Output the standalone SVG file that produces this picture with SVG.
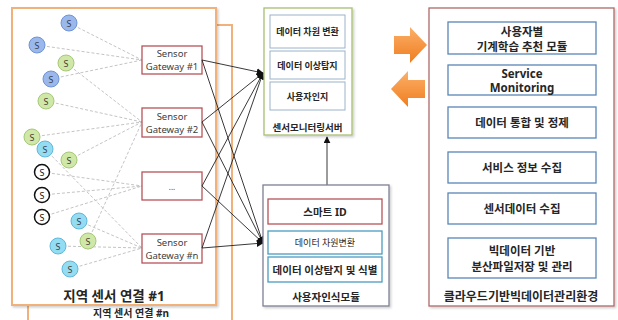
<svg xmlns="http://www.w3.org/2000/svg" width="618" height="320" viewBox="0 0 618 320">
<defs>
<style>
text{font-family:"Noto Sans","Noto Sans CJK KR",sans-serif;fill:#262626;text-anchor:middle;dominant-baseline:central}
.region{fill:#fff;stroke:#f0b27a;stroke-width:2}
.gw{fill:#fff;stroke:#b5545a;stroke-width:1.3}
.gwt{font-size:9.5px;fill:#404040}
.srv{fill:#fff;stroke:#a8c070;stroke-width:1.3}
.sin{fill:#fff;stroke:#9ab2c8;stroke-width:1}
.usr{fill:#fff;stroke:#7f8096;stroke-width:1.3}
.red{fill:#fff;stroke:#b5545a;stroke-width:1.3}
.blu{fill:#fff;stroke:#4a9cc0;stroke-width:1.3}
.cld{fill:#fff;stroke:#b06a6a;stroke-width:1.3}
.cin{fill:#fff;stroke:#5a86b8;stroke-width:1.3}
.b9{font-size:9px;font-weight:bold}
.b11{font-size:11.5px;font-weight:bold}
.s{font-size:9px;fill:#404040}
.sb{fill:#9ab8ec;stroke:#6f93d4}
.sg{fill:#cfe8a8;stroke:#a7c878}
.sc{fill:#93dcf2;stroke:#5fb8dc}
.sk{fill:#fff;stroke:#111;stroke-width:1.5}
.dash{stroke:#c4c4c4;stroke-width:1;stroke-dasharray:3 2;fill:none}
.conn{stroke:#222;stroke-width:0.9;fill:none}
</style>
<marker id="ah" viewBox="0 0 10 10" refX="9" refY="5" markerWidth="7" markerHeight="7" markerUnits="userSpaceOnUse" orient="auto">
<path d="M0,0 L10,5 L0,10 z" fill="#111"/>
</marker>
<linearGradient id="og" x1="0" y1="0" x2="0" y2="1">
<stop offset="0" stop-color="#fbb06a"/>
<stop offset="1" stop-color="#f07d1e"/>
</linearGradient>
<filter id="sh" x="-5%" y="-5%" width="110%" height="110%">
<feDropShadow dx="1.5" dy="1.5" stdDeviation="1" flood-color="#000" flood-opacity="0.2"/>
</filter>
</defs>

<g id="region-n">
<rect class="region" x="28" y="25" width="204" height="300"/>
<text x="131" y="313" style="font-size:10px;font-weight:bold">지역 센서 연결 #n</text>
</g>

<g id="region-1">
<rect class="region" x="12" y="8" width="204" height="297" filter="url(#sh)"/>
<text x="114" y="296" style="font-size:13.5px;font-weight:bold">지역 센서 연결 #1</text>
</g>

<g id="sensor-links">
<line class="dash" x1="69" y1="23" x2="142" y2="60"/>
<line class="dash" x1="37" y1="45" x2="142" y2="60"/>
<line class="dash" x1="51" y1="79" x2="142" y2="60"/>
<line class="dash" x1="66" y1="63" x2="142" y2="122"/>
<line class="dash" x1="46" y1="101" x2="142" y2="122"/>
<line class="dash" x1="32" y1="137" x2="142" y2="122"/>
<line class="dash" x1="69" y1="160" x2="142" y2="122"/>
<line class="dash" x1="88" y1="241" x2="142" y2="122"/>
<line class="dash" x1="45" y1="149" x2="142" y2="248"/>
<line class="dash" x1="42" y1="172" x2="142" y2="186"/>
<line class="dash" x1="42" y1="195" x2="142" y2="186"/>
<line class="dash" x1="42" y1="217" x2="142" y2="186"/>
<line class="dash" x1="79" y1="221" x2="142" y2="248"/>
<line class="dash" x1="58" y1="246" x2="142" y2="248"/>
<line class="dash" x1="70" y1="269" x2="142" y2="248"/>
</g>

<g id="sensors">
<g id="s1"><circle class="sb" cx="69" cy="23" r="8"/><text class="s" x="69" y="23">S</text></g>
<g id="s2"><circle class="sb" cx="37" cy="45" r="8"/><text class="s" x="37" y="45">S</text></g>
<g id="s3"><circle class="sg" cx="66" cy="63" r="8"/><text class="s" x="66" y="63">S</text></g>
<g id="s4"><circle class="sb" cx="51" cy="79" r="8"/><text class="s" x="51" y="79">S</text></g>
<g id="s5"><circle class="sg" cx="46" cy="101" r="8"/><text class="s" x="46" y="101">S</text></g>
<g id="s6"><circle class="sg" cx="32" cy="137" r="8"/><text class="s" x="32" y="137">S</text></g>
<g id="s7"><circle class="sc" cx="45" cy="149" r="8"/><text class="s" x="45" y="149">S</text></g>
<g id="s8"><circle class="sg" cx="69" cy="160" r="8"/><text class="s" x="69" y="160">S</text></g>
<g id="s9"><circle class="sk" cx="42" cy="172" r="7.5"/><text class="s" x="42" y="172" style="fill:#111">S</text></g>
<g id="s10"><circle class="sk" cx="42" cy="195" r="7.5"/><text class="s" x="42" y="195" style="fill:#111">S</text></g>
<g id="s11"><circle class="sk" cx="42" cy="217" r="7.5"/><text class="s" x="42" y="217" style="fill:#111">S</text></g>
<g id="s12"><circle class="sc" cx="79" cy="221" r="8"/><text class="s" x="79" y="221">S</text></g>
<g id="s13"><circle class="sg" cx="88" cy="241" r="8"/><text class="s" x="88" y="241">S</text></g>
<g id="s14"><circle class="sc" cx="58" cy="246" r="8"/><text class="s" x="58" y="246">S</text></g>
<g id="s15"><circle class="sc" cx="70" cy="269" r="8"/><text class="s" x="70" y="269">S</text></g>
</g>

<g id="gateway-1">
<rect class="gw" x="142" y="46" width="60" height="28"/>
<text class="gwt" x="172" y="53.5">Sensor</text>
<text class="gwt" x="172" y="66.5">Gateway #1</text>
</g>
<g id="gateway-2">
<rect class="gw" x="142" y="108" width="60" height="29"/>
<text class="gwt" x="172" y="116">Sensor</text>
<text class="gwt" x="172" y="129">Gateway #2</text>
</g>
<g id="gateway-3">
<rect class="gw" x="142" y="172" width="60" height="28"/>
<text class="gwt" x="172" y="186" style="font-size:8px">...</text>
</g>
<g id="gateway-n">
<rect class="gw" x="142" y="234" width="60" height="29"/>
<text class="gwt" x="172" y="242">Sensor</text>
<text class="gwt" x="172" y="255">Gateway #n</text>
</g>

<g id="connectors">
<line class="conn" x1="202" y1="60" x2="263" y2="73" marker-end="url(#ah)"/>
<line class="conn" x1="202" y1="122" x2="263" y2="73" marker-end="url(#ah)"/>
<line class="conn" x1="202" y1="186" x2="263" y2="73" marker-end="url(#ah)"/>
<line class="conn" x1="202" y1="248" x2="263" y2="73" marker-end="url(#ah)"/>
<line class="conn" x1="202" y1="60" x2="263" y2="243" marker-end="url(#ah)"/>
<line class="conn" x1="202" y1="122" x2="263" y2="243" marker-end="url(#ah)"/>
<line class="conn" x1="202" y1="186" x2="263" y2="243" marker-end="url(#ah)"/>
<line class="conn" x1="202" y1="248" x2="263" y2="243" marker-end="url(#ah)"/>
<line class="conn" x1="327" y1="185" x2="327" y2="137" marker-end="url(#ah)"/>
<polygon points="394,36 410,36 410,27 427,45 410,63 410,54 394,54" fill="url(#og)"/>
<polygon points="425,80 408,80 408,71 391,89 408,107 408,98 425,98" fill="url(#og)"/>
</g>

<g id="monitoring-server">
<rect class="srv" x="264" y="8" width="88" height="127" filter="url(#sh)"/>
<rect class="sin" x="270" y="15" width="75" height="33"/>
<text class="b9" x="307.5" y="31.5">데이터 차원 변환</text>
<rect class="sin" x="270" y="51" width="75" height="28"/>
<text class="b9" x="307.5" y="65">데이터 이상탐지</text>
<rect class="sin" x="270" y="82" width="75" height="28"/>
<text class="b9" x="307.5" y="96">사용자인지</text>
<text x="307.5" y="127" style="font-size:9.5px;font-weight:bold">센서모니터링서버</text>
</g>

<g id="user-recognition">
<rect class="usr" x="263" y="185" width="126" height="121" filter="url(#sh)"/>
<rect class="red" x="268" y="199" width="114" height="25"/>
<text x="325" y="211.5" style="font-size:10.5px;font-weight:bold">스마트 ID</text>
<rect class="blu" x="268" y="231" width="114" height="23"/>
<text x="325" y="242.5" style="font-size:9px">데이터 차원변환</text>
<rect class="blu" x="268" y="257" width="114" height="25"/>
<text x="325" y="269.5" style="font-size:10.5px;font-weight:bold">데이터 이상탐지 및 식별</text>
<text x="326" y="297" style="font-size:10.5px;font-weight:bold">사용자인식모듈</text>
</g>

<g id="cloud">
<rect class="cld" x="429" y="8" width="185" height="298" filter="url(#sh)"/>
<rect class="cin" x="448" y="22" width="148" height="32"/>
<text class="b11" x="522" y="31.5">사용자별</text>
<text class="b11" x="522" y="46">기계학습 추천 모듈</text>
<rect class="cin" x="448" y="65" width="148" height="30"/>
<text class="b11" x="522" y="73.5">Service</text>
<text class="b11" x="522" y="87.5">Monitoring</text>
<rect class="cin" x="448" y="107" width="148" height="31"/>
<text class="b11" x="522" y="122.5">데이터 통합 및 정제</text>
<rect class="cin" x="448" y="152" width="148" height="31"/>
<text class="b11" x="522" y="167.5">서비스 정보 수집</text>
<rect class="cin" x="448" y="193" width="148" height="31"/>
<text class="b11" x="522" y="208.5">센서데이터 수집</text>
<rect class="cin" x="448" y="238" width="148" height="40"/>
<text class="b11" x="522" y="250">빅데이터 기반</text>
<text class="b11" x="522" y="266">분산파일저장 및 관리</text>
<text x="521" y="296" style="font-size:12px;font-weight:bold">클라우드기반빅데이터관리환경</text>
</g>
</svg>
